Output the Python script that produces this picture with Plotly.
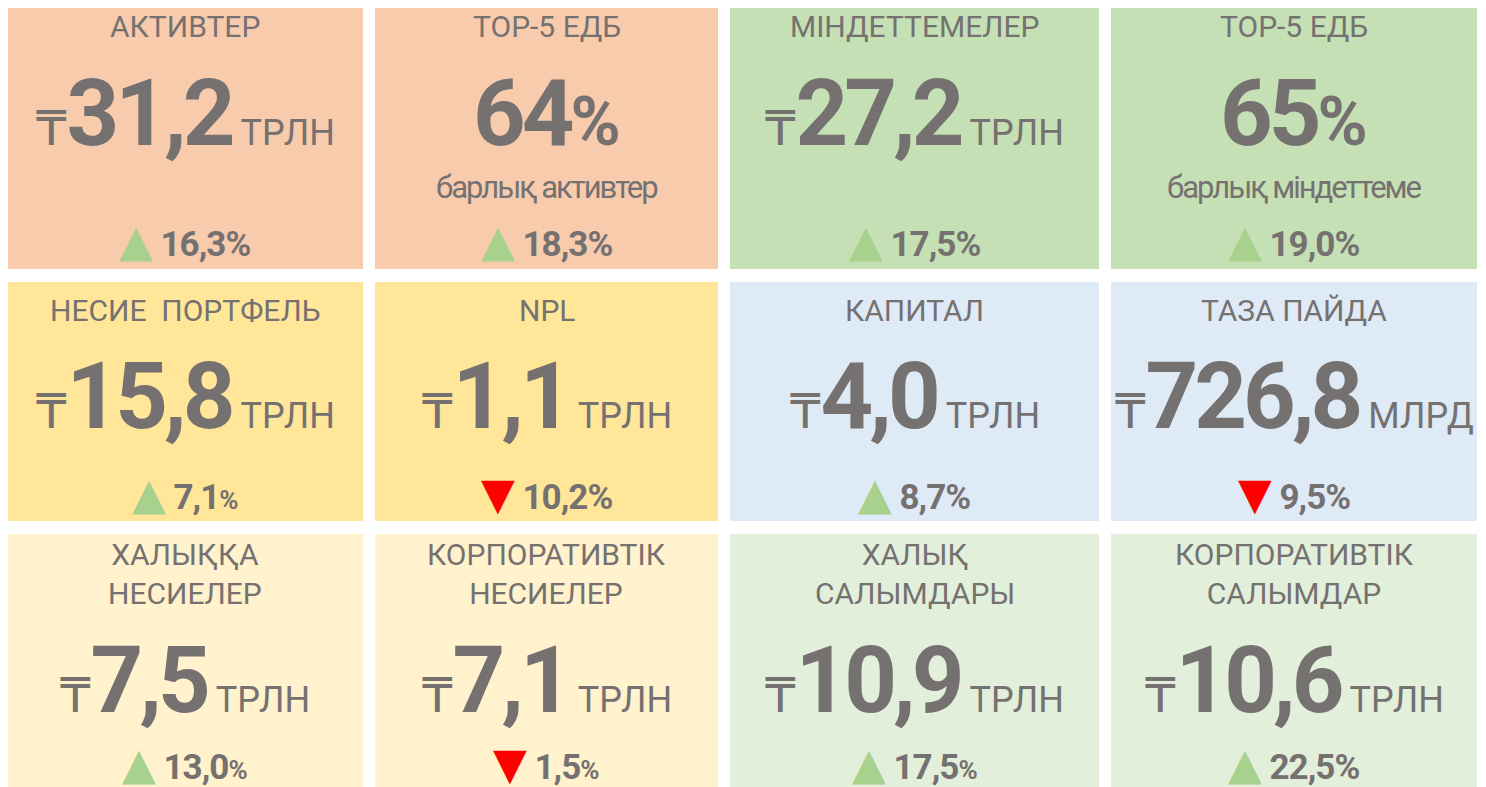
import plotly.graph_objects as go

# ---------------- data ----------------
titles = ["АКТИВТЕР", "ТОР-5 ЕДБ", "МІНДЕТТЕМЕЛЕР", "ТОР-5 ЕДБ",
          "НЕСИЕ  ПОРТФЕЛЬ", "NPL", "КАПИТАЛ", "ТАЗА ПАЙДА",
          "ХАЛЫҚҚА<br>НЕСИЕЛЕР", "КОРПОРАТИВТІК<br>НЕСИЕЛЕР",
          "ХАЛЫҚ<br>САЛЫМДАРЫ", "КОРПОРАТИВТІК<br>САЛЫМДАР"]
values = [31.2, 64, 27.2, 65, 15.8, 1.1, 4.0, 726.8, 7.5, 7.1, 10.9, 10.6]
units = ["ТРЛН", "%", "ТРЛН", "%", "ТРЛН", "ТРЛН", "ТРЛН", "МЛРД",
         "ТРЛН", "ТРЛН", "ТРЛН", "ТРЛН"]
subtitles = ["", "барлық активтер", "", "барлық міндеттеме",
             "", "", "", "", "", "", "", ""]
changes = [16.3, 18.3, 17.5, 19.0, 7.1, -10.2, 8.7, -9.5, 13.0, -1.5, 17.5, 22.5]

# ---------------- style / layout ----------------
tile_colors = ["#F8CBAD", "#F8CBAD", "#C5E0B4", "#C5E0B4",
               "#FFE699", "#FFE699", "#DEEBF7", "#DEEBF7",
               "#FFF2CC", "#FFF2CC", "#E2EFDA", "#E2EFDA"]
# tiles whose change label uses a smaller percent sign
small_pct = [False, False, False, False, True, False, False, False,
             True, True, True, False]
TXT = "#767171"
UP = "#A9D18E"
DOWN = "#FF0000"
W, H = 1486, 787
OFF = 8  # page body margin: the figure starts 8px from the window corner
# tile edges in window pixels
col_x0 = [7, 375, 730, 1111]
col_x1 = [363, 718, 1099, 1477]
row_y0 = [6, 282, 534]
row_y1 = [269, 521, 800]
# window-pixel targets inside a row: title centre, value baseline, subtitle baseline, change baseline
row_off = [dict(title=21, value=142, sub=193, chg=247),
           dict(title=28, value=149, sub=0, chg=224),
           dict(title=40, value=181, sub=0, chg=242)]

BOLD = "font-family:Roboto,'Noto Sans',sans-serif;font-weight:bold"
NUM_SIZE = 92
NUM_LS = -4
PCT_SIZE = 68
CHG_SIZE = 35
SUB_SIZE = 31
TITLE_SIZE = 30
UNIT_SIZE = 36
TENGE_SIZE = 48
TRI_SIZE = 44
BASE_K = 0.37  # baseline sits about this many font sizes below a middle anchor


def fmt(v, dec=1):
    return f"{v:.{dec}f}".replace(".", ",")


def px(x):
    return (x - OFF) / W


def py(y):
    return 1 - (y - OFF) / H


def span(text, style):
    return f'<span style="{style}">{text}</span>'


fig = go.Figure()
shapes = []
annotations = []


def add_text(x, y, text, size, family="Roboto, Noto Sans, sans-serif"):
    annotations.append(dict(x=px(x), y=py(y), xref="paper", yref="paper", text=text,
                            showarrow=False, xanchor="center", yanchor="middle",
                            borderpad=0,
                            font=dict(family=family, size=size, color=TXT)))


for i in range(12):
    r, c = divmod(i, 4)
    x0, x1, y0, y1 = col_x0[c], col_x1[c], row_y0[r], row_y1[r]
    cx = (x0 + x1) / 2
    off = row_off[r]
    shapes.append(dict(type="rect", xref="paper", yref="paper",
                       x0=px(x0), x1=px(x1), y0=py(y1), y1=py(y0),
                       fillcolor=tile_colors[i], line=dict(width=0), layer="below"))
    # title
    add_text(cx, y0 + off["title"], titles[i], TITLE_SIZE)
    # main value
    if units[i] == "%":
        vtxt = (span(f"{int(values[i])}",
                     f"{BOLD};font-size:{NUM_SIZE}px;letter-spacing:{NUM_LS}px")
                + span("%", f"{BOLD};font-size:{PCT_SIZE}px"))
    else:
        vtxt = (span("₸", f"font-family:'DejaVu Sans';font-size:{TENGE_SIZE}px")
                + span(fmt(values[i]),
                       f"{BOLD};font-size:{NUM_SIZE}px;letter-spacing:{NUM_LS}px")
                + span("\u00a0" + units[i], f"font-family:Roboto;font-size:{UNIT_SIZE}px"))
    add_text(cx, y0 + off["value"] - BASE_K * NUM_SIZE, vtxt, NUM_SIZE)
    # subtitle
    if subtitles[i]:
        add_text(cx, y0 + off["sub"] - BASE_K * SUB_SIZE,
                 span(subtitles[i],
                      f"font-family:Roboto;font-size:{SUB_SIZE}px;letter-spacing:-2px"),
                 SUB_SIZE)
    # change
    up = changes[i] >= 0
    tri = "▲" if up else "▼"
    pct_size = CHG_SIZE - 9 if small_pct[i] else CHG_SIZE
    ctxt = (span(tri, f"font-family:'DejaVu Sans';font-size:{TRI_SIZE}px;fill:{UP if up else DOWN}")
            + span("\u00a0" + fmt(abs(changes[i])),
                   f"{BOLD};font-size:{CHG_SIZE}px;letter-spacing:-1px")
            + span("%", f"{BOLD};font-size:{pct_size}px"))
    add_text(cx, y0 + off["chg"] - BASE_K * CHG_SIZE, ctxt, CHG_SIZE)

fig.update_layout(
    width=W, height=H,
    margin=dict(l=0, r=0, t=0, b=0),
    paper_bgcolor="white", plot_bgcolor="white",
    xaxis=dict(visible=False, fixedrange=True),
    yaxis=dict(visible=False, fixedrange=True),
    shapes=shapes, annotations=annotations,
    showlegend=False,
)
fig.write_html("out.html")
